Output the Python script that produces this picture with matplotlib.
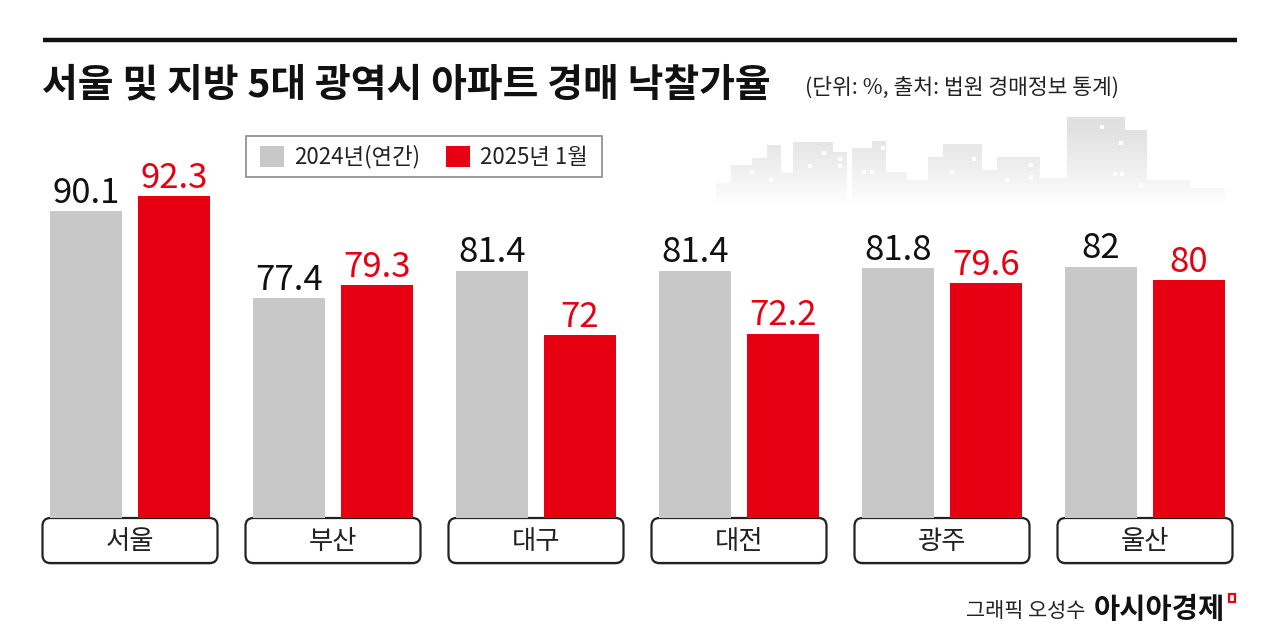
import numpy as np
import matplotlib
matplotlib.use("Agg")
import matplotlib.pyplot as plt
from matplotlib.patches import Rectangle, FancyBboxPatch

plt.rcParams['font.family'] = ['Noto Sans CJK KR', 'DejaVu Sans']

# ---- data ----
cities = ['서울', '부산', '대구', '대전', '광주', '울산']
rate_2024 = [90.1, 77.4, 81.4, 81.4, 81.8, 82.0]
rate_2025_jan = [92.3, 79.3, 72.0, 72.2, 79.6, 80.0]
series_labels = ['2024년(연간)', '2025년 1월']
title = '서울 및 지방 5대 광역시 아파트 경매 낙찰가율'
subtitle = '(단위: %, 출처: 법원 경매정보 통계)'
credit_author = '그래픽 오성수'
credit_brand = '아시아경제'

GRAY = '#c8c8c8'
RED = '#e60012'

W, H = 1279, 636
fig = plt.figure(figsize=(W / 100, H / 100), dpi=100)
fig.patch.set_facecolor('white')

# background / decoration axes in pixel coordinates
bg = fig.add_axes([0, 0, 1, 1])
bg.set_xlim(0, W)
bg.set_ylim(H, 0)
bg.axis('off')

# top rule
bg.plot([43, 1237], [40, 40], color='#111111', lw=3.2, solid_capstyle='butt')

# title + subtitle
bg.text(42, 96, title, fontsize=28, fontweight='heavy', color='#111111', va='baseline', ha='left')
bg.text(805, 94, subtitle, fontsize=15.5, color='#222222', va='baseline', ha='left')

# skyline decoration
sky = [(716, 735, 183), (731, 752, 165), (752, 767, 158), (767, 781, 145), (781, 793, 173),
       (793, 833, 142), (833, 847, 152), (852, 872, 148), (872, 886, 141), (886, 907, 172),
       (907, 928, 180), (928, 943, 157), (943, 982, 144), (982, 997, 170), (997, 1040, 157),
       (1040, 1067, 178), (1067, 1125, 117), (1125, 1147, 130), (1147, 1190, 180),
       (1190, 1225, 188)]
for x0, x1, top in sky:
    bg.add_patch(Rectangle((x0, top), x1 - x0, 205 - top, facecolor='#e0e0e0', edgecolor='none', zorder=1))
for wx, wy in [(750, 170), (769, 178), (822, 151), (808, 164), (838, 157), (838, 164), (862, 170),
               (870, 170), (881, 146), (950, 170), (972, 157), (1005, 178), (1029, 163), (1029, 175),
               (1100, 125), (1119, 141), (1113, 172), (1120, 172), (1139, 183)]:
    bg.add_patch(Rectangle((wx, wy), 3.5, 3.5, facecolor='white', edgecolor='none', zorder=1.5))
grad = np.zeros((64, 2, 4))
grad[..., :3] = 1.0
grad[..., 3] = np.linspace(0, 1, 64)[:, None] ** 1.2
bg.imshow(grad, extent=(705, 1235, 206, 120), aspect='auto', zorder=2, interpolation='bilinear')

# legend box
bg.add_patch(Rectangle((246, 136), 356, 41, facecolor='white', edgecolor='#8a8a8a', lw=1.2, zorder=3))
bg.add_patch(Rectangle((260, 146), 24, 21, facecolor=GRAY, edgecolor='none', zorder=4))
bg.text(294, 157, series_labels[0], fontsize=16, color='#222222', va='center', ha='left', zorder=4)
bg.add_patch(Rectangle((446, 146), 24, 21, facecolor=RED, edgecolor='none', zorder=4))
bg.text(480, 157, series_labels[1], fontsize=16, color='#222222', va='center', ha='left', zorder=4)

# ---- bar axes ----
px_left, px_right = 28.5, 1246.5
px_top, px_bottom = 100, 518
ax = fig.add_axes([px_left / W, (H - px_bottom) / H, (px_right - px_left) / W, (px_bottom - px_top) / H])
ax.patch.set_visible(False)
ax.set_xlim(-0.5, 5.5)
ax.set_ylim(45.27, 106.32)
ax.axis('off')

x = np.arange(len(cities))
off, bw = 0.2167, 0.355
ax.bar(x - off, rate_2024, width=bw, color=GRAY, zorder=2)
ax.bar(x + off, rate_2025_jan, width=bw, color=RED, zorder=2)

for xi, v in zip(x, rate_2024):
    ax.annotate(f'{v:g}', (xi - off, v), xytext=(0, 6), textcoords='offset points',
                ha='center', va='baseline', fontsize=25, color='#111111')
for xi, v in zip(x, rate_2025_jan):
    ax.annotate(f'{v:g}', (xi + off, v), xytext=(0, 6), textcoords='offset points',
                ha='center', va='baseline', fontsize=25, color=RED)

# category boxes, centred under each group (converted to pixel coords)
to_px = ax.transData
for xi, name in zip(x, cities):
    cx, _ = to_px.transform((xi, 50))  # display x equals bg pixel x (dpi 100)
    bw_px, bh_px, r = 175, 45, 8
    x0, y0 = cx - bw_px / 2, 518
    bg.add_patch(FancyBboxPatch((x0 + r, y0 + r + 1.5), bw_px - 2 * r, bh_px - 2 * r,
                                boxstyle=f'round,pad={r},rounding_size={r}',
                                facecolor='#9a9a9a', edgecolor='none', zorder=3))
    bg.add_patch(FancyBboxPatch((x0 + r, y0 + r), bw_px - 2 * r, bh_px - 2 * r,
                                boxstyle=f'round,pad={r},rounding_size={r}',
                                facecolor='white', edgecolor='#222222', lw=1.6, zorder=4))
    bg.text(cx, y0 + bh_px / 2 + 1, name, fontsize=19, color='#222222', ha='center', va='center', zorder=5)

# credit
bg.text(1085, 617, credit_author, fontsize=15, color='#222222', ha='right', va='baseline')
bg.text(1094, 618, credit_brand, fontsize=20.5, fontweight='bold', color='#111111', ha='left', va='baseline')
bg.add_patch(Rectangle((1229, 594), 6, 8, facecolor='none', edgecolor=RED, lw=1.6))

fig.savefig('out.png', dpi=100, facecolor='white')
